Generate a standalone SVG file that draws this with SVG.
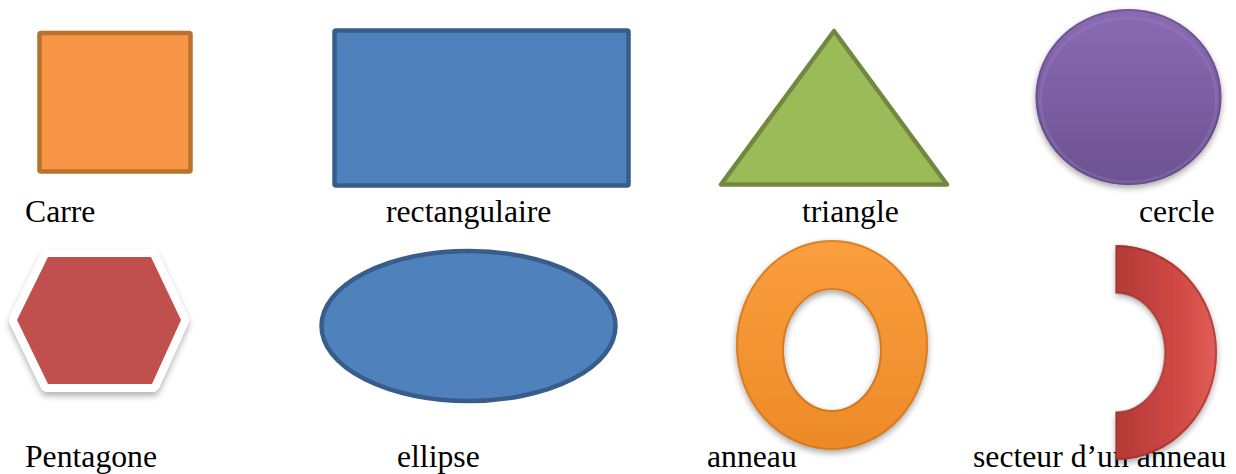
<svg xmlns="http://www.w3.org/2000/svg" width="1236" height="474" viewBox="0 0 1236 474">
  <style>
    .label { font-family: "Liberation Serif", "Times New Roman", serif; font-size: 31.7px; fill: #000; }
    .flat { stroke-width: 4.5; stroke-linejoin: round; }
  </style>
  <defs>
    <linearGradient id="purpleFill" x1="0" y1="0" x2="0" y2="1">
      <stop offset="0" stop-color="#8A6BB3"/>
      <stop offset="1" stop-color="#6C5291"/>
    </linearGradient>
    <linearGradient id="orangeFill" x1="0" y1="0" x2="0" y2="1">
      <stop offset="0" stop-color="#FB9E3E"/>
      <stop offset="1" stop-color="#EC8A27"/>
    </linearGradient>
    <linearGradient id="redFill" x1="0" y1="0" x2="1" y2="0">
      <stop offset="0" stop-color="#B33A36"/>
      <stop offset="0.6" stop-color="#D04844"/>
      <stop offset="1" stop-color="#E25E58"/>
    </linearGradient>
    <filter id="softShadow" x="-20%" y="-20%" width="140%" height="150%">
      <feDropShadow dx="0" dy="3" stdDeviation="3" flood-color="#000" flood-opacity="0.35"/>
    </filter>
    <filter id="hexShadow" x="-20%" y="-20%" width="140%" height="150%">
      <feDropShadow dx="0" dy="4" stdDeviation="3" flood-color="#000" flood-opacity="0.3"/>
    </filter>
  </defs>

  <!-- labels, drawn first so shapes may overlap them -->
  <g id="labels">
    <text class="label" x="25" y="222">Carre</text>
    <text class="label" x="386" y="222">rectangulaire</text>
    <text class="label" x="802" y="222">triangle</text>
    <text class="label" x="1139" y="222">cercle</text>
    <text class="label" x="25" y="467">Pentagone</text>
    <text class="label" x="397" y="467">ellipse</text>
    <text class="label" x="707" y="467">anneau</text>
    <text class="label" x="973" y="467">secteur d’un anneau</text>
  </g>

  <g id="carre">
    <rect class="flat" x="39.5" y="33" width="151" height="138.5" rx="1.5" fill="#F79646" stroke="#B9712F"/>
  </g>

  <g id="rectangulaire">
    <rect class="flat" x="334.5" y="30.5" width="294" height="155" rx="1.5" fill="#4F81BD" stroke="#385D8A"/>
  </g>

  <g id="triangle">
    <polygon class="flat" points="834,31 721,184.5 947,184.5" fill="#9BBB59" stroke="#71893F"/>
  </g>

  <g id="cercle">
    <ellipse cx="1128.5" cy="97" rx="93" ry="88" fill="url(#purpleFill)" filter="url(#softShadow)"/>
    <ellipse cx="1128.5" cy="97" rx="92" ry="87" fill="none" stroke="#5E477F" stroke-opacity="0.55" stroke-width="2"/>
    <ellipse cx="1128.5" cy="100" rx="88" ry="82" fill="none" stroke="#A58CC8" stroke-opacity="0.25" stroke-width="3"/>
  </g>

  <g id="pentagone">
    <polygon points="17,320 48,257 151,257 181,320 152,384 48,384" fill="#FFFFFF" stroke="#FFFFFF" stroke-width="16" stroke-linejoin="round" filter="url(#hexShadow)"/>
    <polygon points="17,320 48,257 151,257 181,320 152,384 48,384" fill="#C0504D"/>
  </g>

  <g id="ellipse">
    <ellipse class="flat" cx="468.5" cy="326" rx="147" ry="75" fill="#4F81BD" stroke="#385D8A"/>
  </g>

  <g id="anneau">
    <path d="M736,345 A96,105 0 1 0 928,345 A96,105 0 1 0 736,345 Z M784,350 A48,60 0 1 1 880,350 A48,60 0 1 1 784,350 Z"
          fill="url(#orangeFill)" fill-rule="evenodd" filter="url(#softShadow)"/>
    <ellipse cx="832" cy="345" rx="95" ry="104" fill="none" stroke="#C4701C" stroke-opacity="0.6" stroke-width="2"/>
    <ellipse cx="832" cy="350" rx="49" ry="61" fill="none" stroke="#A9601A" stroke-opacity="0.45" stroke-width="2"/>
  </g>

  <g id="secteur">
    <path d="M1116,245 A101,107.5 0 0 1 1116,460 L1116,412 A49,59.5 0 0 0 1116,293 Z"
          fill="url(#redFill)" filter="url(#softShadow)"/>
    <path d="M1116,246 A100,106.5 0 0 1 1116,459 L1116,412 A49,59.5 0 0 0 1116,293 Z"
          fill="none" stroke="#8E2A27" stroke-opacity="0.5" stroke-width="2" stroke-linejoin="round"/>
  </g>
</svg>
